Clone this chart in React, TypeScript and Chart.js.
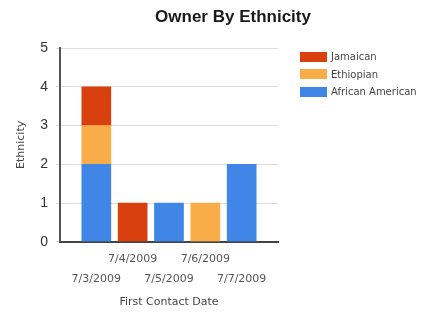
import React, { useEffect, useRef } from "react";
import { Chart, registerables } from "chart.js";

Chart.register(...registerables);

const categories = ["7/3/2009", "7/4/2009", "7/5/2009", "7/6/2009", "7/7/2009"];
const africanAmerican = [2, 0, 1, 0, 2];
const ethiopian = [1, 0, 0, 1, 0];
const jamaican = [1, 1, 0, 0, 0];
const yTicks = [0, 1, 2, 3, 4, 5];

const seriesNames = ["Jamaican", "Ethiopian", "African American"];
const seriesColors = ["#d9400f", "#f8ad48", "#3f86e6"];

const SMALL = "'DejaVu Sans', Verdana, sans-serif";
const BIG = "'Liberation Sans', Arial, sans-serif";

function pad(arr: number[]) {
  return [null, ...arr.map((v) => (v === 0 ? null : v)), null];
}

export default function App() {
  const ref = useRef<HTMLCanvasElement | null>(null);

  useEffect(() => {
    document.body.style.margin = "0";
    const ctx = ref.current!;
    const labels: (string | string[])[] = [
      "",
      ...categories.map((c, i) => (i % 2 === 0 ? ["", c] : [c, ""])),
      "",
    ];
    const chart = new Chart(ctx, {
      type: "bar",
      data: {
        labels,
        datasets: [
          { label: seriesNames[2], data: pad(africanAmerican), backgroundColor: seriesColors[2] },
          { label: seriesNames[1], data: pad(ethiopian), backgroundColor: seriesColors[1] },
          { label: seriesNames[0], data: pad(jamaican), backgroundColor: seriesColors[0] },
        ],
      },
      options: {
        animation: false,
        responsive: false,
        maintainAspectRatio: false,
        layout: { padding: { left: 15, right: 152, top: 48, bottom: 9 } },
        datasets: { bar: { barThickness: 29 } },
        plugins: {
          legend: { display: false },
          tooltip: { enabled: false },
          title: { display: false },
        },
        scales: {
          x: {
            stacked: true,
            offset: false,
            grid: { display: false, drawTicks: false },
            border: { display: true, color: "#444", width: 2 },
            ticks: {
              autoSkip: false,
              maxRotation: 0,
              minRotation: 0,
              color: "#555",
              padding: 7,
              font: { family: SMALL, size: 11, lineHeight: 1.82 },
            },
            title: {
              display: true,
              text: "First Contact Date",
              color: "#444",
              font: { family: SMALL, size: 11 },
              padding: { top: 0, bottom: 0 },
            },
          },
          y: {
            stacked: true,
            min: 0,
            max: 5,
            afterBuildTicks: (axis: any) => {
              axis.ticks = yTicks.map((v) => ({ value: v }));
            },
            grid: { color: "#dcdcdc", tickLength: 4, lineWidth: 1 },
            border: { display: true, color: "#555", width: 2 },
            ticks: {
              color: "#333",
              padding: 8,
              font: { family: BIG, size: 14 },
            },
            title: {
              display: true,
              text: "Ethnicity",
              color: "#444",
              font: { family: SMALL, size: 11 },
              padding: { top: 0, bottom: 4 },
            },
          },
        },
      },
    });
    return () => chart.destroy();
  }, []);

  return (
    <div style={{ position: "relative", width: 430, height: 318, background: "#fff" }}>
      <canvas ref={ref} width={430} height={318} style={{ display: "block" }} />
      <div
        style={{
          position: "absolute",
          left: 0,
          width: 466,
          top: 7,
          lineHeight: "20px",
          textAlign: "center",
          fontFamily: BIG,
          fontWeight: "bold",
          fontSize: 17,
          color: "#1a1a1a",
          whiteSpace: "nowrap",
        }}
      >
        Owner By Ethnicity
      </div>
      <div
        style={{
          position: "absolute",
          left: 300,
          top: 48,
          fontFamily: SMALL,
          fontSize: 10,
          color: "#444",
        }}
      >
        {seriesNames.map((n, i) => (
          <div key={n} style={{ display: "flex", alignItems: "center", height: 17.5, whiteSpace: "nowrap" }}>
            <span
              style={{ display: "inline-block", width: 27, height: 10, background: seriesColors[i], marginRight: 4 }}
            />
            <span>{n}</span>
          </div>
        ))}
      </div>
    </div>
  );
}
